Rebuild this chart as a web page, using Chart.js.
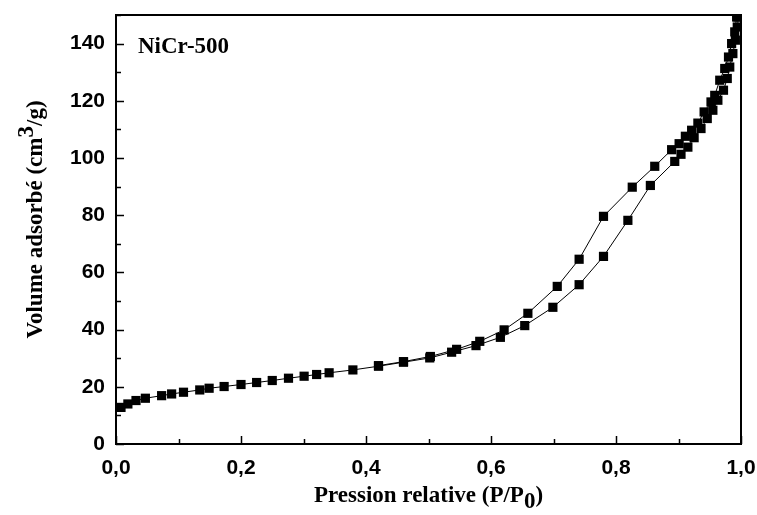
<!DOCTYPE html>
<html>
<head>
<meta charset="utf-8">
<script src="https://cdn.jsdelivr.net/npm/chart.js@4.4.1/dist/chart.umd.min.js"></script>
<style>
  html, body { margin: 0; padding: 0; background: #fff; }
  #wrap { width: 757px; height: 515px; position: relative; }
</style>
</head>
<body>
<div id="wrap"><canvas id="isotherme"></canvas></div>
<script>
// branche d'adsorption
var adsX = [0.008, 0.019, 0.032, 0.047, 0.073, 0.089, 0.108, 0.134, 0.149, 0.173, 0.200, 0.225, 0.250, 0.276, 0.301,
            0.321, 0.341, 0.379, 0.420, 0.460, 0.502, 0.537, 0.576, 0.615, 0.654, 0.699, 0.741, 0.780, 0.819, 0.855,
            0.894, 0.904, 0.915, 0.925, 0.936, 0.946, 0.955, 0.963, 0.972, 0.978, 0.982, 0.987, 0.991, 0.994, 0.995];
var adsY = [12.8, 14.0, 15.2, 16.0, 16.9, 17.5, 18.1, 18.9, 19.5, 20.1, 20.8, 21.5, 22.2, 23.0, 23.7,
            24.3, 24.9, 25.9, 27.2, 28.6, 30.1, 32.1, 34.4, 37.3, 41.4, 47.8, 55.7, 65.6, 78.2, 90.4,
            98.8, 101.3, 103.8, 107.1, 110.3, 113.8, 116.7, 120.2, 123.7, 127.8, 131.8, 136.5, 141.2, 145.8, 149.3];
// branche de desorption
var desX = [0.993, 0.990, 0.985, 0.980, 0.974, 0.966, 0.958, 0.952, 0.941, 0.931, 0.921, 0.911, 0.901,
            0.889, 0.862, 0.826, 0.780, 0.741, 0.706, 0.659, 0.621, 0.582, 0.545, 0.503, 0.460, 0.420];
var desY = [149.3, 144.1, 140.0, 135.3, 131.3, 127.2, 121.9, 119.6, 116.1, 112.2, 109.7, 107.6, 105.0,
            102.9, 97.1, 89.8, 79.6, 64.6, 55.1, 45.7, 39.9, 35.9, 33.1, 30.6, 28.8, 27.4];

var xTicks = [0, 0.2, 0.4, 0.6, 0.8, 1.0];
var yTicks = [0, 20, 40, 60, 80, 100, 120, 140];

function points(xs, ys) {
    var pts = [];
    for (var i = 0; i < xs.length; i++) {
        pts.push({ x: xs[i], y: ys[i] });
    }
    return pts;
}

// cadre, graduations internes et titres des axes
var cadrePlugin = {
    id: "cadre",
    afterDraw: function (chart) {
        var ctx = chart.ctx;
        var a = chart.chartArea;
        var sx = chart.scales.x, sy = chart.scales.y;
        ctx.save();
        ctx.strokeStyle = "#000";
        ctx.lineWidth = 1.5;
        ctx.beginPath();
        for (var v = 0; v <= 1.0001; v += 0.1) {
            var px = Math.round(sx.getPixelForValue(v)) + 0.5;
            var len = (Math.round(v * 10) % 2 === 0) ? 8 : 5;
            ctx.moveTo(px, a.bottom);
            ctx.lineTo(px, a.bottom - len);
        }
        for (var w = 0; w <= 150; w += 10) {
            var py = Math.round(sy.getPixelForValue(w)) + 0.5;
            var l2 = (w % 20 === 0) ? 8 : 5;
            ctx.moveTo(a.left, py);
            ctx.lineTo(a.left + l2, py);
        }
        ctx.stroke();
        ctx.lineWidth = 2;
        ctx.strokeRect(a.left, a.top, a.right - a.left, a.bottom - a.top);

        ctx.fillStyle = "#000";
        ctx.textBaseline = "alphabetic";
        ctx.font = "bold 23px 'Liberation Serif'";
        ctx.textAlign = "left";
        ctx.fillText("NiCr-500", a.left + 22, 53);

        // titre x
        var t1 = "Pression relative (P/P", t2 = "0", t3 = ")";
        var w1 = ctx.measureText(t1).width, w2 = ctx.measureText(t2).width, w3 = ctx.measureText(t3).width;
        var cx = (a.left + a.right) / 2;
        var x0 = cx - (w1 + w2 + w3) / 2;
        var by = 502;
        ctx.fillText(t1, x0, by);
        ctx.fillText(t2, x0 + w1, by + 6);
        ctx.fillText(t3, x0 + w1 + w2, by);

        // titre y
        ctx.translate(42, (a.top + a.bottom) / 2 - 10);
        ctx.rotate(-Math.PI / 2);
        var s1 = "Volume adsorbé (cm", s2 = "3", s3 = "/g)";
        var v1 = ctx.measureText(s1).width, v2 = ctx.measureText(s2).width, v3 = ctx.measureText(s3).width;
        var y0 = -(v1 + v2 + v3) / 2;
        ctx.fillText(s1, y0, 0);
        ctx.fillText(s2, y0 + v1, -9);
        ctx.fillText(s3, y0 + v1 + v2, 0);
        ctx.restore();
    }
};

var ctx = document.getElementById("isotherme").getContext("2d");
var chart = new Chart(ctx, {
    type: "scatter",
    data: {
        datasets: [
            {
                label: "Adsorption",
                data: points(adsX, adsY),
                showLine: true,
                borderColor: "#000",
                borderWidth: 1,
                backgroundColor: "#000",
                pointStyle: "rect",
                pointRadius: 6.5,
                pointBorderWidth: 0
            },
            {
                label: "Désorption",
                data: points(desX, desY),
                showLine: true,
                borderColor: "#000",
                borderWidth: 1,
                backgroundColor: "#000",
                pointStyle: "rect",
                pointRadius: 6.5,
                pointBorderWidth: 0
            }
        ]
    },
    options: {
        responsive: true,
        maintainAspectRatio: false,
        animation: false,
        layout: { padding: { left: 0, top: 15, right: 16, bottom: 0 } },
        plugins: {
            legend: { display: false },
            tooltip: { enabled: false }
        },
        scales: {
            x: {
                type: "linear",
                min: 0,
                max: 1,
                afterBuildTicks: function (scale) {
                    scale.ticks = xTicks.map(function (v) { return { value: v }; });
                },
                afterFit: function (scale) {
                    scale.height = 71;
                    scale.paddingLeft = 0;
                    scale.paddingRight = 0;
                },
                grid: { display: false, drawTicks: false },
                border: { display: false },
                ticks: {
                    color: "#000",
                    padding: 12,
                    font: { family: "'Liberation Sans'", size: 21, weight: "bold" },
                    callback: function (v) { return v.toFixed(1).replace(".", ","); }
                }
            },
            y: {
                type: "linear",
                min: 0,
                max: 150,
                afterBuildTicks: function (scale) {
                    scale.ticks = yTicks.map(function (v) { return { value: v }; });
                },
                afterFit: function (scale) {
                    scale.width = 116;
                    scale.paddingTop = 0;
                    scale.paddingBottom = 0;
                },
                grid: { display: false, drawTicks: false },
                border: { display: false },
                ticks: {
                    color: "#000",
                    padding: 11,
                    font: { family: "'Liberation Sans'", size: 21, weight: "bold" }
                }
            }
        }
    },
    plugins: [cadrePlugin]
});
</script>
</body>
</html>
